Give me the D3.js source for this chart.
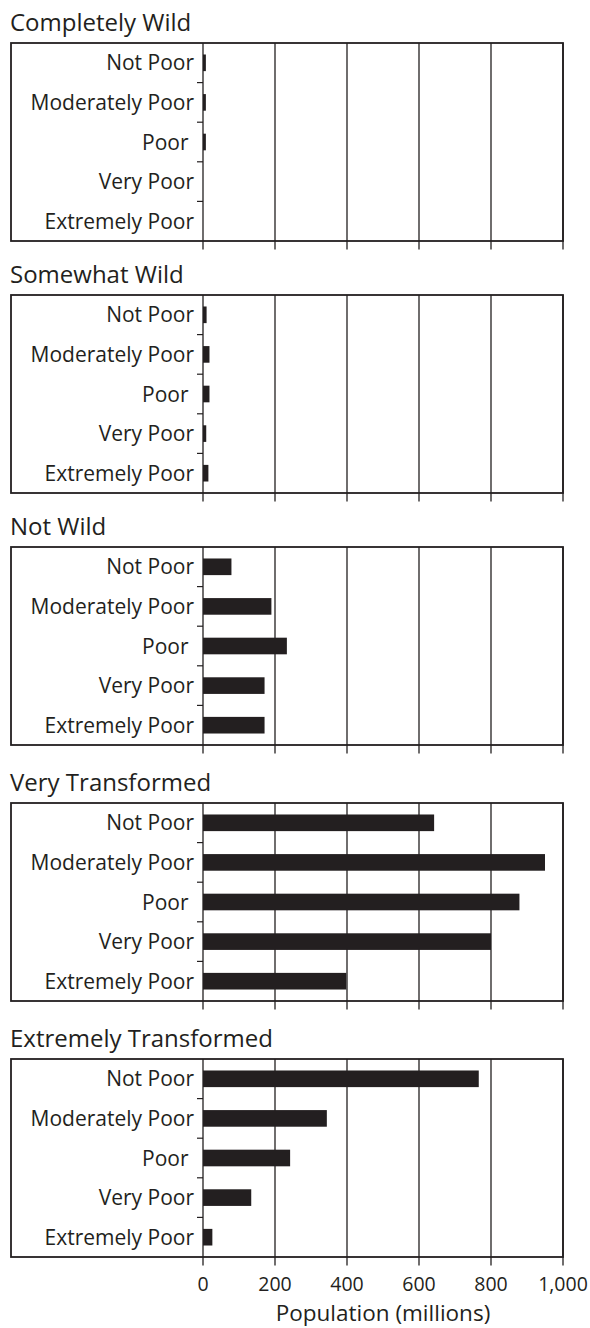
<!DOCTYPE html>
<html>
<head>
<meta charset="utf-8">
<script src="https://cdn.jsdelivr.net/npm/d3@7/dist/d3.min.js"></script>
<style>
  html, body { margin: 0; padding: 0; background: #fff; }
  svg { display: block; }
  text { font-family: "Open Sans", sans-serif; fill: #231f20; }
</style>
</head>
<body>
<svg id="chart" width="590" height="1328"></svg>
<script>
// ---- data ----
const panelTitles = ["Completely Wild", "Somewhat Wild", "Not Wild", "Very Transformed", "Extremely Transformed"];
const categories = ["Not Poor", "Moderately Poor", "Poor ", "Very Poor", "Extremely Poor"];
const completelyWild = [8, 8, 8, 0, 0];
const somewhatWild = [10, 18, 18, 9, 15];
const notWild = [79, 190, 233, 171, 171];
const veryTransformed = [642, 950, 879, 800, 398];
const extremelyTransformed = [766, 344, 242, 134, 26];
const xTicks = [0, 200, 400, 600, 800, 1000];
const xTickLabels = ["0", "200", "400", "600", "800", "1,000"];
const axisTitle = "Population (millions)";

const seriesList = [completelyWild, somewhatWild, notWild, veryTransformed, extremelyTransformed];

// ---- layout ----
const panelTops = [43, 295, 547, 803, 1059];
const panelH = 198;
const boxLeft = 11;
const ink = "#231f20";

const svg = d3.select("#chart");
const x = d3.scaleLinear().domain([0, 1000]).range([203, 563]);

seriesList.forEach((values, i) => {
  const top = panelTops[i];
  const bottom = top + panelH;
  const y = d3.scaleBand().domain(categories).range([top, bottom])
    .paddingInner(0.58).paddingOuter(0.29);
  const step = y.step();
  const g = svg.append("g");

  // title
  g.append("text")
    .attr("x", 10).attr("y", top - 12.5)
    .style("font-size", "24px")
    .text(panelTitles[i]);

  // gridlines (incl. zero line), extending below box as ticks
  g.selectAll("line.grid").data(xTicks).join("line")
    .attr("class", "grid")
    .attr("x1", d => x(d)).attr("x2", d => x(d))
    .attr("y1", top).attr("y2", bottom + 8.5)
    .attr("stroke", ink).attr("stroke-width", 1.3);

  // category boundary ticks
  g.selectAll("line.ytick").data(categories.slice(1)).join("line")
    .attr("class", "ytick")
    .attr("x1", x(0) - 6).attr("x2", x(0))
    .attr("y1", d => y(d) - (step - y.bandwidth()) / 2)
    .attr("y2", d => y(d) - (step - y.bandwidth()) / 2)
    .attr("stroke", ink).attr("stroke-width", 1.2);

  // bars
  g.selectAll("rect.bar").data(values).join("rect")
    .attr("class", "bar")
    .attr("x", x(0))
    .attr("y", (d, j) => y(categories[j]))
    .attr("width", d => x(d) - x(0))
    .attr("height", y.bandwidth())
    .attr("fill", ink);

  // category labels
  g.selectAll("text.cat").data(categories).join("text")
    .attr("class", "cat")
    .attr("x", 194)
    .attr("y", d => y(d) + y.bandwidth() / 2)
    .attr("dy", "0.36em")
    .attr("text-anchor", "end")
    .style("font-size", "21px")
    .style("white-space", "pre")
    .text(d => d);

  // box
  g.append("rect")
    .attr("x", boxLeft).attr("y", top)
    .attr("width", x(1000) - boxLeft).attr("height", panelH)
    .attr("fill", "none").attr("stroke", ink).attr("stroke-width", 1.8);
});

// x axis labels under last panel
const lastBottom = panelTops[4] + panelH;
svg.append("g").selectAll("text").data(xTicks).join("text")
  .attr("x", d => x(d))
  .attr("y", lastBottom + 34)
  .attr("text-anchor", "middle")
  .style("font-size", "19.5px")
  .text((d, i) => xTickLabels[i]);

svg.append("text")
  .attr("x", (x(0) + x(1000)) / 2)
  .attr("y", lastBottom + 64)
  .attr("text-anchor", "middle")
  .style("font-size", "22.5px")
  .text(axisTitle);
</script>
</body>
</html>
